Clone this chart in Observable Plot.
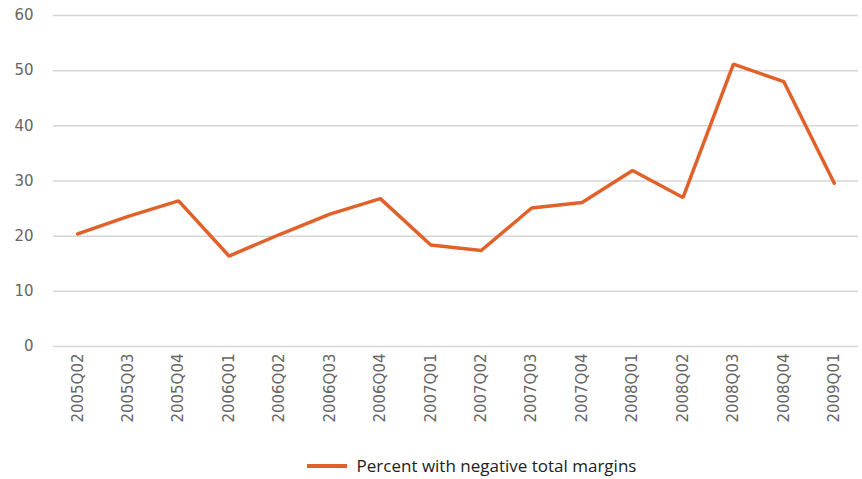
<!DOCTYPE html>
<html>
<head>
<meta charset="utf-8">
<script src="https://cdn.jsdelivr.net/npm/d3@7"></script>
<script src="https://cdn.jsdelivr.net/npm/@observablehq/plot@0.6"></script>
<style>
  body { margin: 0; background: #fff; font-family: "Open Sans", sans-serif; }
  #legend { display: flex; justify-content: center; align-items: center; padding-top: 14px; padding-left: 81px; font-size: 17px; color: #222; }
  #legend .sw { width: 40px; height: 4px; background: #e0612a; margin-right: 10px; }
</style>
</head>
<body>
<div id="chart"></div>
<div id="legend"><span class="sw"></span><span>Percent with negative total margins</span></div>
<script>
const quarters = ["2005Q02","2005Q03","2005Q04","2006Q01","2006Q02","2006Q03","2006Q04","2007Q01","2007Q02","2007Q03","2007Q04","2008Q01","2008Q02","2008Q03","2008Q04","2009Q01"];
const percentNegative = [20.4, 23.6, 26.4, 16.4, 20.3, 24.0, 26.8, 18.4, 17.4, 25.1, 26.1, 31.9, 27.0, 51.2, 48.0, 29.6];
const yTicks = [0, 10, 20, 30, 40, 50, 60];

const data = quarters.map((q, i) => ({q, v: percentNegative[i]}));

const chart = Plot.plot({
  width: 862,
  height: 440,
  marginTop: 15,
  marginBottom: 94,
  marginLeft: 53,
  marginRight: 4,
  style: { fontFamily: "DejaVu Sans, sans-serif", fontSize: "15px", color: "#666" },
  x: { type: "point", domain: quarters, padding: 0.48, round: false, label: null },
  y: { domain: [0, 60], ticks: yTicks, label: null },
  marks: [
    Plot.gridY(yTicks, { stroke: "#d6d6d6", strokeOpacity: 1, strokeWidth: 1.5 }),
    Plot.axisY({ ticks: yTicks, tickSize: 0, tickPadding: 20, fill: "#666", fontSize: 15 }),
    Plot.axisX({ tickSize: 0, tickPadding: 7, tickRotate: -90, fill: "#666", fontSize: 15 }),
    Plot.line(data, { x: "q", y: "v", stroke: "#e0612a", strokeWidth: 3.5, strokeLinejoin: "miter" })
  ]
});
document.getElementById("chart").appendChild(chart);
</script>
</body>
</html>
